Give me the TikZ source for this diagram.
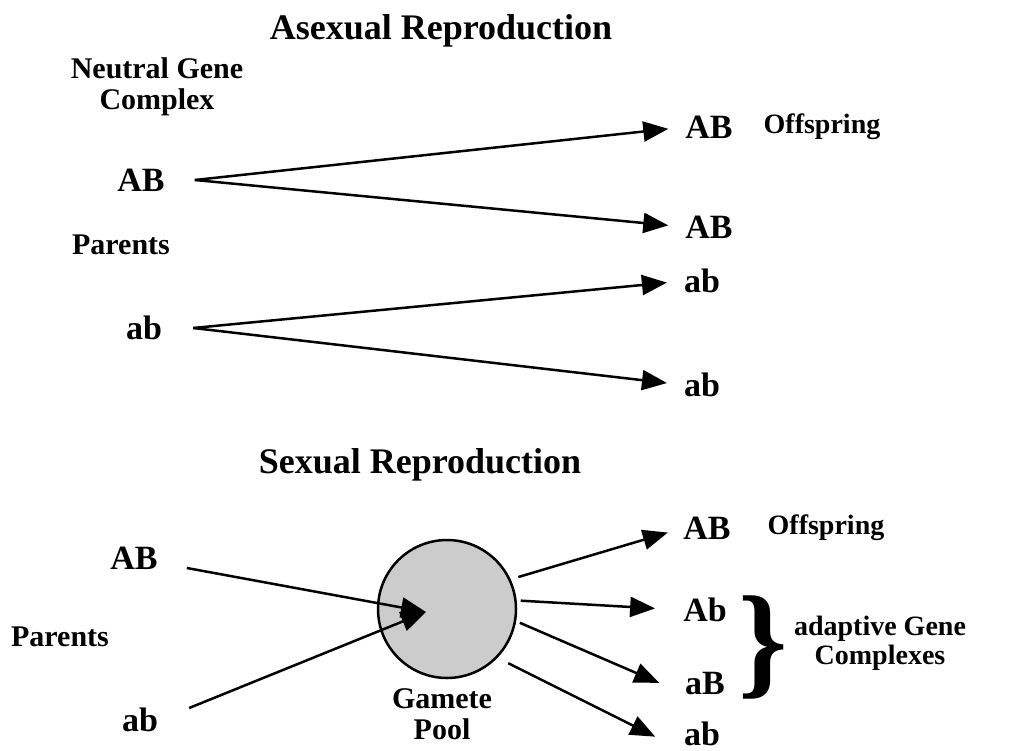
\documentclass[tikz,border=0pt]{standalone}
\usepackage{fontspec}
\setmainfont{Liberation Serif}
\usetikzlibrary{arrows.meta,positioning}
\tikzset{
  titletext/.style={font=\bfseries\fontsize{36}{40}\selectfont,inner sep=0pt},
  genetext/.style={font=\bfseries\fontsize{34}{38}\selectfont,inner sep=0pt},
  notetext/.style={font=\bfseries\fontsize{30}{31}\selectfont,inner sep=0pt,align=center},
  smalltext/.style={font=\bfseries\fontsize{28}{29}\selectfont,inner sep=0pt,align=center},
  bigarrow/.style={-{Triangle[length=25pt,width=20pt]},line width=2.5pt},
  poolcircle/.style={circle,draw,line width=2.5pt,fill=black!20,minimum size=138pt,inner sep=0pt}
}
\begin{document}
\begin{tikzpicture}[x=1pt,y=-1pt]
  \useasboundingbox (0,0) rectangle (1011,751);
  % asexual reproduction
  \node[titletext] (asextitle) at (441,31) {Asexual Reproduction};
  \node[notetext] (neutral) at (157,87) {Neutral Gene\\Complex};
  \node[genetext] (ABpar) at (141,180) {AB};
  \node[notetext] (parup) at (121,245) {Parents};
  \node[genetext] (abpar) at (144,328) {ab};
  \node[genetext] (ABoff) at (709,127) {AB};
  \node[smalltext] (offup) at (822,127) {Offspring};
  \node[genetext] (ABoffb) at (709,227) {AB};
  \node[genetext] (aboff) at (702,281) {ab};
  \node[genetext] (aboffb) at (702,385) {ab};
  \draw[bigarrow,shorten >=17pt] ([xshift=30pt]ABpar.east) -- (ABoff.west);
  \draw[bigarrow,shorten >=17pt] ([xshift=30pt]ABpar.east) -- (ABoffb.west);
  \draw[bigarrow,shorten >=17pt] ([xshift=31pt]abpar.east) -- (aboff.west);
  \draw[bigarrow,shorten >=17pt] ([xshift=31pt]abpar.east) -- (aboffb.west);
  % sexual reproduction
  \node[titletext] (sextitle) at (420,465) {Sexual Reproduction};
  \node[genetext] (ABsex) at (134,558) {AB};
  \node[notetext] (pardown) at (60,637) {Parents};
  \node[genetext] (absex) at (140,720) {ab};
  \node[poolcircle] (pool) at (447,609) {};
  \coordinate (poolin) at (426,612);
  \node[notetext] (gamete) at (442,714) {Gamete\\Pool};
  \node[genetext] (ABnew) at (707,528) {AB};
  \node[smalltext] (offdown) at (826,528) {Offspring};
  \node[genetext] (Abnew) at (705,610) {Ab};
  \node[genetext] (aBnew) at (705,684) {aB};
  \node[genetext] (abnew) at (702,734) {ab};
  \draw[bigarrow] ([xshift=29pt,yshift=-10pt]ABsex.east) -- (poolin);
  \draw[bigarrow] ([xshift=31pt,yshift=12pt]absex.east) -- (poolin);
  \draw[bigarrow,shorten <=8pt,shorten >=16pt] (pool.25) -- (ABnew.west);
  \draw[bigarrow,shorten <=4pt,shorten >=28pt] (pool.7) -- (Abnew.west);
  \draw[bigarrow,shorten <=4pt,shorten >=28pt] (pool.-10) -- ([yshift=-10pt]aBnew.west);
  \draw[bigarrow,shorten <=12pt,shorten >=32pt] (pool.-44) -- ([yshift=-17pt]abnew.west);
  \node[inner sep=0pt,font=\bfseries\fontsize{125}{125}\selectfont] (brace) at (763,647) {\}};
  \node[smalltext] (adaptive) at (880,643) {adaptive Gene\\Complexes};
\end{tikzpicture}
\end{document}
